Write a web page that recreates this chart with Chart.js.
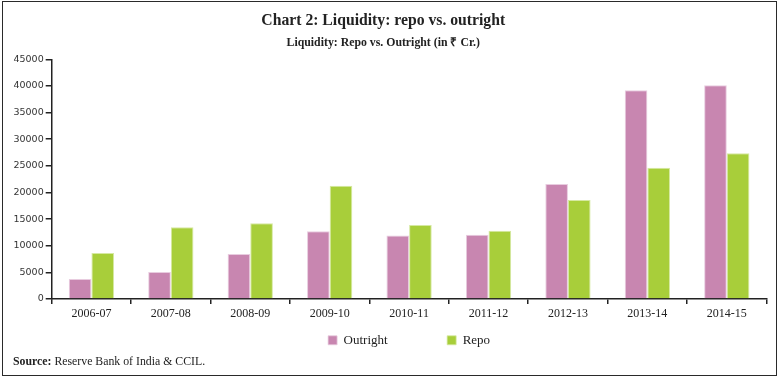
<!DOCTYPE html>
<html><head><meta charset="utf-8">
<script src="https://cdn.jsdelivr.net/npm/chart.js@4/dist/chart.umd.min.js"></script>
<style>
html,body{margin:0;padding:0;background:#fff;}
#wrap{position:relative;width:782px;height:382px;overflow:hidden;}
#frame{position:absolute;left:2px;top:1px;width:775px;height:375px;border:1.3px solid #2a2a2a;box-sizing:border-box;pointer-events:none;}
#c{position:absolute;left:0;top:0;}
#source{position:absolute;left:13px;top:353px;font-family:"Liberation Serif",serif;font-size:11.8px;color:#222;line-height:16px;white-space:nowrap;}
</style></head><body>
<div id="wrap"><canvas id="c" width="782" height="382"></canvas><div id="frame"></div>
<div id="source"><b>Source:</b> Reserve Bank of India &amp; CCIL.</div></div>
<script>
const categories = ['2006-07','2007-08','2008-09','2009-10','2010-11','2011-12','2012-13','2013-14','2014-15'];
const outright = [3750, 5070, 8450, 12700, 11900, 12080, 21600, 39180, 40120];
const repo = [8640, 13460, 14210, 21280, 13900, 12830, 18590, 24660, 27350];
const seriesNames = ['Outright', 'Repo'];
const yMin = 0, yMax = 45000, yStep = 5000;

const LEGEND_GAP = 59.5;
const legendLayout = {
  id: 'legendLayout',
  beforeLayout(chart) {
    const lg = chart.legend;
    if (!lg || lg._patched) return;
    lg._patched = true;
    const origFit = lg.fit;
    lg.fit = function () { origFit.call(this); this.height = 33; };
    if (typeof lg._draw === 'function') {
      const origDraw = lg._draw;
      lg._draw = function () { const t = this.top; this.top = t - (LEGEND_GAP - 10); origDraw.call(this); this.top = t; };
    }
  }
};

new Chart(document.getElementById('c'), {
  type: 'bar',
  data: {
    labels: categories,
    datasets: [
      { label: seriesNames[0], data: outright, backgroundColor: '#C886B0', borderColor: '#E8CCDF', borderWidth: {top:1, left:1, right:1, bottom:0}, borderSkipped: 'bottom' },
      { label: seriesNames[1], data: repo, backgroundColor: '#A8CE3A', borderColor: '#D6E9A2', borderWidth: {top:1, left:1, right:1, bottom:0}, borderSkipped: 'bottom' }
    ]
  },
  options: {
    responsive: false,
    animation: false,
    devicePixelRatio: 1,
    layout: { padding: { top: 12, right: 15.5, bottom: 25.2, left: 0 } },
    datasets: { bar: { categoryPercentage: 0.57, barPercentage: 1.0 } },
    plugins: {
      tooltip: { enabled: false },
      title: {
        display: true,
        text: 'Chart 2: Liquidity: repo vs. outright',
        color: '#222',
        font: { family: '"Liberation Serif", serif', size: 15.7, weight: 'bold' },
        padding: { top: 0, bottom: 5.2 }
      },
      subtitle: {
        display: true,
        text: 'Liquidity: Repo vs. Outright (in ₹ Cr.)',
        color: '#222',
        font: { family: '"Liberation Serif", serif', size: 11.8, weight: 'bold' },
        padding: { top: 0, bottom: 9.1 }
      },
      legend: {
        display: true,
        position: 'bottom',
        fullSize: false,
        labels: {
          boxWidth: 9, boxHeight: 9, padding: LEGEND_GAP, color: '#222',
          font: { family: '"Liberation Serif", serif', size: 13 }
        }
      }
    },
    scales: {
      x: {
        offset: true,
        grid: { display: true, drawOnChartArea: false, drawTicks: true, tickLength: 5, offset: true, color: '#222', lineWidth: 1.5 },
        border: { display: true, color: '#222', width: 1.5 },
        ticks: { color: '#222', padding: 3, maxRotation: 0, autoSkip: false, font: { family: '"Liberation Serif", serif', size: 12 } },
        afterFit(scale) { scale.height = 24.8; }
      },
      y: {
        min: yMin, max: yMax,
        grid: { display: true, drawOnChartArea: false, drawTicks: true, tickLength: 6, color: '#222', lineWidth: 1.5 },
        border: { display: true, color: '#222', width: 1.5 },
        ticks: { stepSize: yStep, color: '#333', padding: 2, font: { family: '"DejaVu Sans", sans-serif', size: 9.5 }, callback: v => String(v) },
        afterFit(scale) { scale.width = 51.7; }
      }
    }
  },
  plugins: [legendLayout]
});
</script>
</body></html>
